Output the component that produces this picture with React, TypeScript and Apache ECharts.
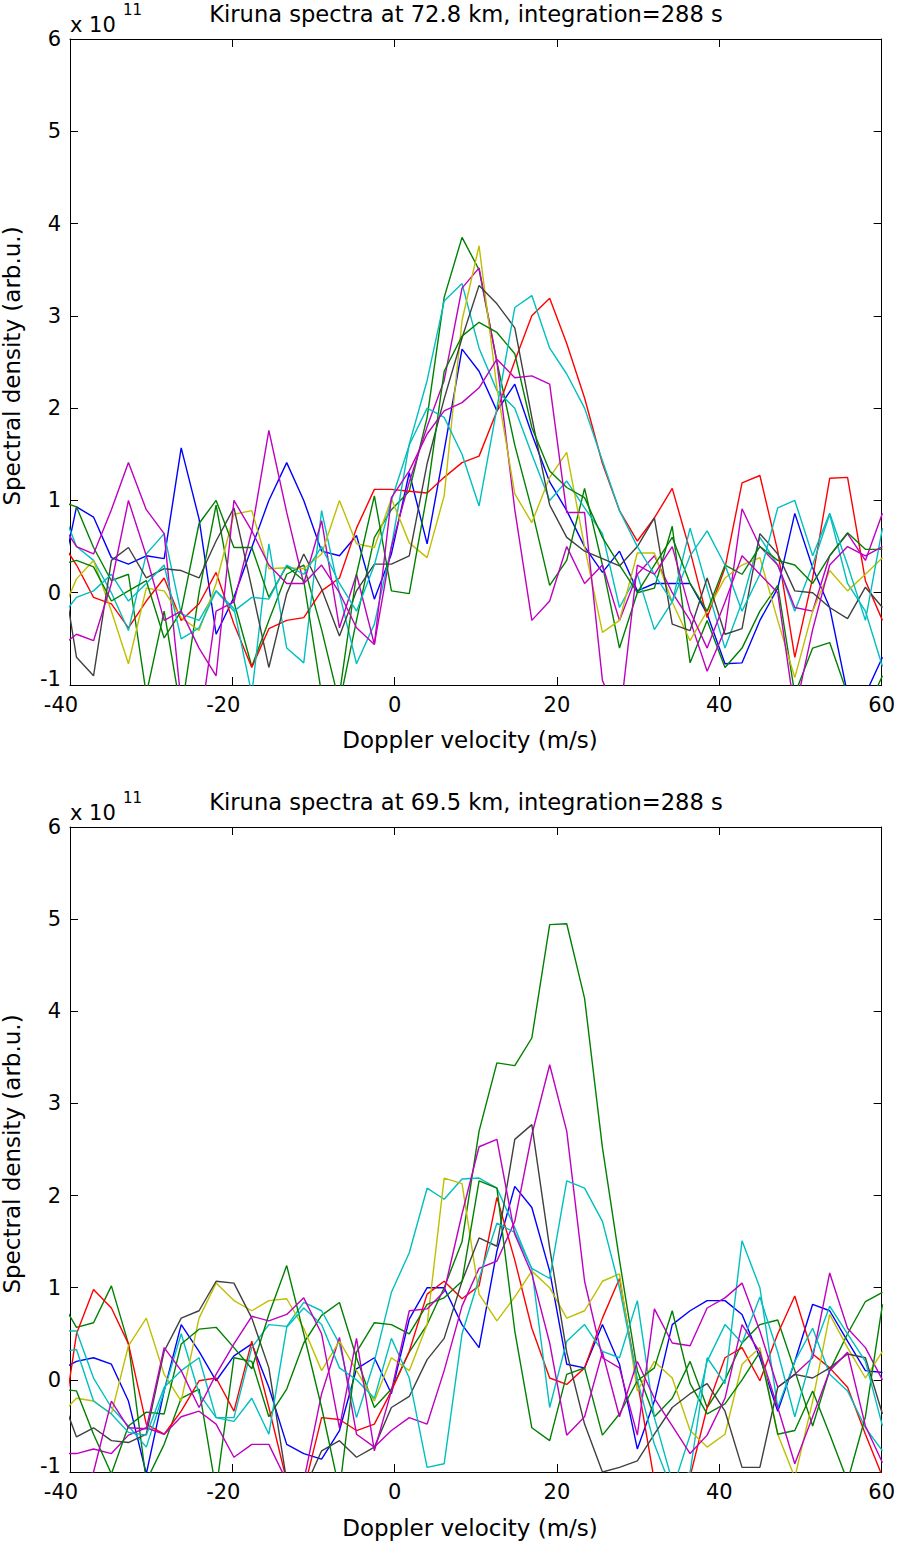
import React, { useEffect, useRef } from "react";
import * as echarts from "echarts";

// Doppler velocity grid (m/s)
const VEL = [
  -41.4, -39.2, -37.1, -34.9, -32.8, -30.6, -28.4, -26.3, -24.1, -22.0,
  -19.8, -17.6, -15.5, -13.3, -11.2, -9.0, -6.8, -4.7, -2.5, -0.4,
  1.8, 4.0, 6.1, 8.3, 10.4, 12.6, 14.8, 16.9, 19.1, 21.2,
  23.4, 25.6, 27.7, 29.9, 32.0, 34.2, 36.4, 38.5, 40.7, 42.8,
  45.0, 47.2, 49.3, 51.5, 53.6, 55.8, 58.0, 60.1,
];

const X_TICKS_MIN = -40;
const X_TICKS_MAX = 60;
const X_STEP = 20;
const Y_MIN = -1;
const Y_MAX = 6;
const Y_STEP = 1;

const TITLE_TOP = "Kiruna spectra at 72.8 km, integration=288 s";
const TITLE_BOTTOM = "Kiruna spectra at 69.5 km, integration=288 s";
const X_NAME = "Doppler velocity (m/s)";
const Y_NAME = "Spectral density (arb.u.)";

// ---- Upper panel (72.8 km), units of 1e11 ----
const T_BLUE = [0.0, 0.93, 0.82, 0.38, 0.31, 0.40, 0.37, 1.57, 0.80, -0.45, -0.05, 0.49, 1.0, 1.41, 1.0, 0.45, 0.40, 0.62, -0.07, 0.42, 1.3, 0.53, 1.54, 2.64, 2.4, 1.97, 2.26, 1.72, 1.2, 0.89, 0.5, 0.22, 0.45, 0.02, 0.1, 0.1, 0.1, -0.23, -0.77, -0.76, -0.3, 0.05, 0.86, 0.27, -0.16, -1.1, -1.1, -0.7];
const T_GREEN1 = [1.0, 0.93, 0.49, 0.13, 0.2, -1.1, -0.2, -1.3, 0.0, 0.95, -0.1, -0.8, -0.3, 0.2, 0.3, -0.4, -1.2, -0.3, 0.6, 0.9, 1.1, 1.9, 3.2, 3.85, 3.5, 2.5, 1.6, 0.9, 0.08, 0.35, 1.13, 0.3, -0.6, 0.0, 0.05, 0.72, -0.76, -0.3, -0.81, -0.6, -0.2, 0.08, -1.1, -0.6, -0.54, -1.1, -1.3, -0.9];
const T_GREEN2 = [0.3, 0.35, 0.28, -0.09, 0.02, 0.13, -0.49, -0.2, 0.75, 1.0, 0.49, 0.49, -0.05, 0.29, 0.13, -1.1, -1.1, 0.2, 1.05, 0.02, -0.01, 1.07, 2.4, 2.78, 2.93, 2.82, 2.59, 1.79, 1.32, 1.14, 1.03, 0.6, 0.3, 0.0, 0.3, 0.6, 0.1, -0.2, 0.3, 0.2, 0.5, 0.35, 0.3, 0.1, 0.4, 0.65, 0.47, 0.47];
const T_RED = [0.6, 0.3, -0.05, -0.12, -0.38, -0.09, 0.16, -0.3, -0.12, 0.22, -0.34, -0.81, -0.39, -0.3, -0.27, 0.02, 0.16, 0.7, 1.12, 1.12, 1.1, 1.08, 1.25, 1.41, 1.48, 1.97, 2.51, 3.0, 3.19, 2.7, 2.11, 1.4, 0.89, 0.56, 0.81, 1.13, 0.45, -0.27, 0.27, 1.19, 1.27, 0.45, -0.7, 0.16, 1.24, 1.25, 0.13, -0.3];
const T_CYAN1 = [1.0, 0.5, 0.35, 0.0, -0.41, 0.42, 0.64, -0.23, -0.3, 0.02, -0.17, -1.1, 0.53, -0.6, -0.76, 0.89, -0.01, -0.77, -0.34, 0.5, 1.61, 2.3, 3.16, 3.35, 2.65, 2.19, 2.0, 1.5, 1.0, 1.21, 0.92, 0.64, -0.16, 0.2, -0.4, -0.1, 0.7, 0.05, -0.6, -0.1, 0.6, 0.3, -0.2, 0.3, 0.85, 0.1, -0.2, -0.8];
const T_CYAN2 = [-0.3, -0.05, 0.02, 0.2, -0.09, 0.1, 0.3, -0.5, -0.38, 0.02, -0.2, -0.05, -0.07, 0.3, 0.2, 0.5, 0.1, -0.2, 0.3, 1.0, 1.6, 2.0, 1.9, 1.5, 0.94, 2.0, 3.09, 3.22, 2.65, 2.37, 2.0, 1.43, 0.89, 0.5, 0.2, -0.1, 0.4, 0.67, 0.3, -0.2, 0.2, 0.92, 1.0, 0.4, 0.86, 0.3, -0.3, 0.7];
const T_MAGENTA1 = [0.8, 0.5, 0.42, 0.9, 1.41, 0.9, 0.64, -1.2, -1.5, -0.2, -0.1, 0.67, 1.76, 0.87, 0.1, 0.78, -0.38, 0.2, -0.56, 0.5, 1.2, 1.8, 2.3, 3.3, 3.52, 2.5, 0.9, -0.3, -0.09, 0.5, 0.1, 0.3, -0.3, 0.2, 0.4, 0.0, -0.3, -0.85, -0.4, 0.91, 0.5, 0.3, -0.16, -0.2, 0.4, 0.64, 0.35, 0.86];
const T_MAGENTA2 = [-0.6, -0.45, -0.52, 0.1, 1.0, 0.4, -0.3, -0.2, -0.6, -0.9, 1.0, 0.67, 0.3, 0.1, 0.1, 0.3, 0.0, -0.38, -0.56, 1.03, 1.32, 1.72, 1.97, 2.06, 2.22, 2.53, 2.33, 2.35, 2.26, 0.87, 0.87, -0.95, -1.4, 0.3, 0.2, 0.5, -0.2, -0.6, -0.1, 0.4, 0.2, 0.0, -1.3, -0.4, 0.3, 0.5, 0.4, 0.5];
const T_YELLOW = [-0.3, 0.15, 0.35, -0.2, -0.77, 0.05, 0.02, -0.27, -0.41, 0.1, 0.85, 0.89, 0.26, 0.27, 0.26, 0.42, 1.0, 0.53, 0.49, 1.02, 0.54, 0.38, 1.05, 2.95, 3.76, 2.22, 1.07, 0.76, 1.25, 1.52, 0.5, -0.43, -0.3, 0.43, 0.43, -0.1, -0.52, -0.2, 0.16, 0.3, 0.38, -0.3, -0.92, -0.2, 0.24, 0.02, 0.2, 0.38];
const T_GRAY = [0.5, -0.7, -0.9, 0.35, 0.49, 0.16, 0.26, 0.24, 0.16, 0.56, 0.92, 0.05, -0.81, -0.01, 0.42, 0.04, -0.47, 0.02, 0.31, 0.31, 0.4, 1.4, 2.1, 2.76, 3.33, 3.13, 2.87, 1.9, 0.95, 0.6, 0.45, 0.37, 0.29, 0.5, 0.81, -0.34, -0.41, 0.16, -0.45, -0.39, 0.64, 0.42, 0.02, 0.0, -0.16, -0.28, 0.06, -0.16];

// ---- Lower panel (69.5 km), units of 1e11 ----
const B_BLUE = [0.1, 0.2, 0.24, 0.17, -0.23, -1.02, -0.12, 0.6, 0.31, -0.01, 0.26, 0.39, -0.08, -0.7, -0.8, -0.86, -0.55, 0.12, 0.24, -0.15, 0.66, 1.0, 1.0, 0.6, 0.35, 1.4, 2.1, 1.87, 1.18, 0.17, 0.13, 0.6, 0.17, -0.75, -0.23, 0.6, 0.75, 0.86, 0.86, 0.71, 0.24, -0.34, 0.2, 0.82, 0.75, 0.42, 0.1, 0.08];
const B_GREEN1 = [0.9, 0.57, 0.62, 1.02, 0.39, -1.1, -0.7, -0.2, -0.1, -1.2, 0.24, 0.2, -0.4, -0.1, 0.4, 0.7, 0.84, 0.24, -0.3, -0.1, 0.3, 0.6, 1.0, 1.5, 2.7, 3.44, 3.41, 3.71, 4.94, 4.95, 4.14, 2.52, 1.3, 0.1, -0.4, -0.2, 0.2, -0.3, 0.0, 0.4, 0.6, 0.65, 0.1, -0.5, 0.1, 0.5, 0.85, 0.95];
const B_GREEN2 = [-0.1, -0.12, -0.59, -1.02, -0.5, -0.35, -0.37, 0.39, 0.55, 0.57, 0.35, 0.12, 0.71, 1.24, 0.5, -0.3, -1.2, 0.3, 0.62, 0.6, 0.5, 0.82, 0.89, 1.07, 2.16, 2.08, 0.53, -0.52, -0.66, 0.06, 0.13, -0.6, -0.37, -0.01, 0.13, 0.75, -0.04, -0.37, -0.26, 0.0, 0.3, -0.59, -0.55, -0.12, -0.59, -1.1, -0.4, 0.82];
const B_RED = [-0.8, 0.5, 0.98, 0.78, 0.39, -0.48, -0.59, -0.34, -0.01, 0.02, -0.34, 0.42, -0.3, -1.1, -1.2, -0.41, -0.43, -0.55, -0.48, -0.12, 0.31, 0.93, 1.07, 0.88, 1.02, 1.98, 1.3, 0.56, 0.02, -0.05, 0.13, 0.67, 1.1, -0.01, -1.1, -1.3, -1.05, -0.3, 0.24, 0.35, -0.01, 0.5, 0.91, 0.28, 0.13, -0.08, -0.59, -1.05];
const B_CYAN1 = [0.53, 0.53, 0.02, -0.3, -0.5, -0.73, -0.12, 0.5, -0.15, -0.41, -0.41, 0.35, 0.6, 0.58, 0.84, 0.75, 0.39, -0.41, 0.2, 0.95, 1.38, 2.08, 1.96, 2.18, 2.19, 2.08, 1.65, 1.2, -0.3, 0.42, 0.6, 0.31, 0.24, 0.86, -0.41, -1.1, -1.0, 0.24, -0.04, 1.51, 1.0, -0.3, 0.2, 0.56, 0.06, -0.12, -0.52, -0.77];
const B_CYAN2 = [0.3, 0.33, -0.23, -0.37, -0.57, -0.6, -0.08, 0.1, 0.24, -0.41, -0.45, -0.2, -0.59, 0.57, 0.78, 0.6, 0.13, 0.0, -0.2, 0.45, 0.02, -0.95, -0.91, 0.5, 1.1, 1.7, 1.6, 1.21, 1.1, 2.16, 2.08, 1.72, 1.0, 0.0, -0.7, -1.2, -0.6, 0.2, 0.6, 0.4, 0.9, 0.3, -0.4, 0.3, 0.8, 0.5, 0.2, -0.5];
const B_MAGENTA1 = [-0.8, -0.8, -0.75, -0.8, -0.6, -0.52, -0.59, -0.4, -0.34, -0.48, -0.84, -0.7, -0.7, -1.1, -1.1, -0.15, 0.46, -0.59, -0.73, -0.55, -0.41, -0.48, 0.1, 0.8, 1.21, 1.29, 1.72, 2.66, 3.42, 2.7, 1.07, 0.24, 0.13, -0.6, 0.77, 0.4, 0.37, 0.78, 0.89, 1.05, 0.53, -0.08, 0.06, 0.24, 1.16, 0.56, 0.35, 0.0];
const B_MAGENTA2 = [-1.2, -1.1, -1.0, -0.23, -0.52, -0.53, 0.35, 0.1, -0.3, 0.06, 0.39, 0.69, 0.64, 0.71, 0.89, 0.5, -0.52, 0.45, -0.77, -0.12, 0.75, 0.77, 0.96, 1.8, 2.53, 2.61, 1.58, 1.15, 0.4, -0.6, -0.4, 0.3, -0.4, 0.2, -0.2, -0.5, -0.8, -0.6, -0.2, 0.6, 0.3, -0.3, -0.91, -0.4, 0.1, 0.3, -0.5, -0.9];
const B_YELLOW = [-0.4, -0.2, -0.23, -0.37, 0.37, 0.67, 0.06, -0.23, 0.67, 1.05, 0.86, 0.75, 0.86, 0.88, 0.56, 0.1, 0.42, 0.1, -0.23, 0.24, 0.1, 0.6, 2.19, 2.13, 0.93, 0.64, 0.9, 1.18, 1.0, 0.67, 0.75, 1.07, 1.15, -0.12, 0.2, 0.02, -0.55, -0.73, -0.59, 0.17, 0.35, -0.59, -1.06, -0.23, 0.71, 0.35, 0.02, 0.31];
const B_GRAY = [-0.1, -0.62, -0.52, -0.66, -0.68, -0.59, 0.31, 0.67, 0.75, 1.07, 1.05, 0.67, 0.13, -1.1, -1.2, -0.77, -0.66, -0.84, -0.73, -0.3, -0.18, 0.22, 0.45, 1.07, 1.54, 1.45, 2.61, 2.77, 1.43, 0.3, -0.48, -1.0, -0.95, -0.88, -0.59, -0.3, -0.15, -0.04, -0.34, -0.95, -0.95, -0.08, 0.06, 0.02, 0.13, 0.28, 0.24, -0.37];

const C_BLUE = "#0000ff";
const C_GREEN = "#008000";
const C_RED = "#ff0000";
const C_CYAN = "#00bfbf";
const C_MAGENTA = "#bf00bf";
const C_YELLOW = "#bfbf00";
const C_GRAY = "#404040";

const TOP_LINES: [number[], string][] = [
  [T_BLUE, C_BLUE], [T_GREEN1, C_GREEN], [T_RED, C_RED], [T_CYAN1, C_CYAN], [T_MAGENTA1, C_MAGENTA],
  [T_YELLOW, C_YELLOW], [T_GRAY, C_GRAY], [T_GREEN2, C_GREEN], [T_CYAN2, C_CYAN], [T_MAGENTA2, C_MAGENTA],
];
const BOTTOM_LINES: [number[], string][] = [
  [B_BLUE, C_BLUE], [B_GREEN1, C_GREEN], [B_RED, C_RED], [B_CYAN1, C_CYAN], [B_MAGENTA1, C_MAGENTA],
  [B_YELLOW, C_YELLOW], [B_GRAY, C_GRAY], [B_GREEN2, C_GREEN], [B_CYAN2, C_CYAN], [B_MAGENTA2, C_MAGENTA],
];

const FONT = "DejaVu Sans";
const TICK_FS = 21;
const TITLE_FS = 22.6;
const NAME_FS = 23;

function xAxes(gi: number) {
  const common = {
    gridIndex: gi, type: "value", min: X_TICKS_MIN, max: X_TICKS_MAX, interval: X_STEP,
    axisLine: { show: true, onZero: false, lineStyle: { color: "#000", width: 1 } },
    axisTick: { show: true, inside: true, length: 8, lineStyle: { color: "#000", width: 1 } },
    splitLine: { show: false },
  };
  return [
    {
      ...common, position: "bottom",
      axisLabel: {
        show: true, color: "#000", fontSize: TICK_FS, fontFamily: FONT, margin: 11, lineHeight: 17,
        formatter: (v: number) => (v < 0 ? `{n|${v}}` : `${v}`),
        rich: { n: { padding: [0, 18, 0, 0], fontSize: TICK_FS, fontFamily: FONT, color: "#000", lineHeight: 17 } },
      },
    },
    { ...common, position: "top", axisLabel: { show: false } },
  ];
}

function yAxes(gi: number) {
  const common = {
    gridIndex: gi, type: "value", min: Y_MIN, max: Y_MAX, interval: Y_STEP,
    axisLine: { show: true, onZero: false, lineStyle: { color: "#000", width: 1 } },
    axisTick: { show: true, inside: true, length: 8, lineStyle: { color: "#000", width: 1 } },
    splitLine: { show: false },
  };
  return [
    {
      ...common, position: "left",
      axisLabel: {
        show: true, color: "#000", fontSize: TICK_FS, fontFamily: FONT, margin: 9, lineHeight: 16,
        formatter: (v: number) => (v < 0 ? `{n|${v}}` : `${v}`),
        rich: { n: { padding: [0, 0, 12, 0], fontSize: TICK_FS, fontFamily: FONT, color: "#000", lineHeight: 16 } },
      },
    },
    { ...common, position: "right", axisLabel: { show: false } },
  ];
}

function txt(text: string, x: number, y: number, size: number, align = "center", rotation = 0) {
  return {
    type: "text", x, y, rotation, silent: true,
    style: {
      text, fill: "#000", font: `${size}px "${FONT}"`, fontSize: size, fontFamily: FONT,
      textAlign: align, align, textVerticalAlign: "middle", verticalAlign: "middle",
    },
  };
}

export default function App() {
  const ref = useRef<HTMLDivElement>(null);
  useEffect(() => {
    if (!ref.current) return;
    const chart = echarts.init(ref.current, undefined, { renderer: "svg" });
    const mk = (lines: [number[], string][], gi: number) =>
      lines.map(([vals, color]) => ({
        type: "line", xAxisIndex: gi * 2, yAxisIndex: gi * 2,
        data: VEL.map((x, i) => [x, vals[i]]),
        showSymbol: false, symbol: "none", clip: true, silent: true,
        lineStyle: { color, width: 1.4 }, itemStyle: { color },
        emphasis: { disabled: true },
      }));
    const OFF = 788;
    chart.setOption({
      animation: false,
      backgroundColor: "#fff",
      grid: [
        { left: 70, top: 39, width: 816, height: 646, containLabel: false },
        { left: 70, top: 39 + OFF, width: 816, height: 645, containLabel: false },
      ],
      xAxis: [...xAxes(0), ...xAxes(1)],
      yAxis: [...yAxes(0), ...yAxes(1)],
      series: [...mk(TOP_LINES, 0), ...mk(BOTTOM_LINES, 1)],
      graphic: [
        txt(TITLE_TOP, 466, 14, TITLE_FS),
        txt("x 10", 70, 25, TICK_FS, "left"),
        txt("11", 123, 10, 15, "left"),
        txt(X_NAME, 470, 740, NAME_FS),
        txt(Y_NAME, 12, 366, NAME_FS, "center", Math.PI / 2),
        txt(TITLE_BOTTOM, 466, 14 + OFF, TITLE_FS),
        txt("x 10", 70, 25 + OFF, TICK_FS, "left"),
        txt("11", 123, 10 + OFF, 15, "left"),
        txt(X_NAME, 470, 740 + OFF, NAME_FS),
        txt(Y_NAME, 12, 366 + OFF, NAME_FS, "center", Math.PI / 2),
      ],
    });
    return () => chart.dispose();
  }, []);
  return (
    <div
      ref={ref}
      style={{ position: "absolute", left: 0, top: 0, width: 898, height: 1545, background: "#fff" }}
    />
  );
}
